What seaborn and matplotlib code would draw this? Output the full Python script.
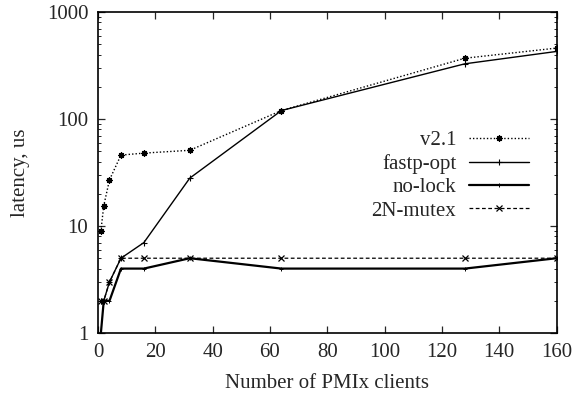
import numpy as np
import matplotlib
matplotlib.use('Agg')
import matplotlib.pyplot as plt
import matplotlib.ticker as mticker
import seaborn as sns

# Data
clients = [1, 2, 4, 8, 16, 32, 64, 128, 160]
v21 = [9, 15.5, 27, 46, 48, 51, 120, 370, 460]
fastp_opt = [2, 2, 3, 5, 7, 28, 120, 328, 428]
no_lock = [1, 2, 2, 4, 4, 5, 4, 4, 5]
mutex_2n = [2, 2, 3, 5, 5, 5, 5, 5, 5]

sns.set_style('ticks')
plt.rcParams['font.family'] = ['Liberation Serif', 'DejaVu Serif']
plt.rcParams['font.size'] = 15

fig = plt.figure(figsize=(5.78, 4.04), dpi=100)
ax = fig.add_axes([0.1696, 0.1757, 0.7934, 0.7946])

asterisk = (8, 2, 0)
common = dict(ax=ax, color='black', markeredgecolor='black', markerfacecolor='black')
sns.lineplot(x=clients, y=v21, linestyle=(0, (1, 1.5)), linewidth=1.0,
             marker=asterisk, markersize=4.5, markeredgewidth=0.9,
             label='v2.1', **common)
sns.lineplot(x=clients, y=fastp_opt, linestyle='-', linewidth=1.0,
             marker='+', markersize=4.5, markeredgewidth=0.8,
             label='fastp-opt', **common)
sns.lineplot(x=clients, y=no_lock, linestyle='-', linewidth=1.6,
             marker='+', markersize=3, markeredgewidth=0.7,
             label='no-lock', **common)
sns.lineplot(x=clients, y=mutex_2n, linestyle=(0, (3, 2)), linewidth=0.9,
             marker='x', markersize=4.5, markeredgewidth=0.9,
             label='2N-mutex', **common)

ax.set_yscale('log')
ax.set_xlim(0, 160)
ax.set_ylim(1, 1000)
ax.set_xticks(range(0, 161, 20))
ax.set_yticks([1, 10, 100, 1000])
ax.yaxis.set_major_formatter(mticker.FuncFormatter(lambda v, p: f'{v:g}'))
ax.yaxis.set_minor_locator(mticker.LogLocator(base=10, subs=np.arange(2, 10)))
ax.yaxis.set_minor_formatter(mticker.NullFormatter())

ax.tick_params(which='both', direction='in', top=True, right=True,
               labelsize=15, pad=7)
ax.tick_params(which='major', length=5, width=0.9)
ax.tick_params(which='minor', length=2.5, width=0.7)
for s in ax.spines.values():
    s.set_linewidth(1.2)
    s.set_color('black')

ax.set_xlabel('Number of PMIx clients', fontsize=15, labelpad=9)
ax.set_ylabel('latency, us', fontsize=15, labelpad=12)

ax.legend(loc='upper right', bbox_to_anchor=(0.94, 0.63), frameon=False,
          markerfirst=False, handlelength=2.9, handletextpad=0.6,
          labelspacing=0.18, borderpad=0, borderaxespad=0, fontsize=15)

fig.savefig('out.png', dpi=100)
